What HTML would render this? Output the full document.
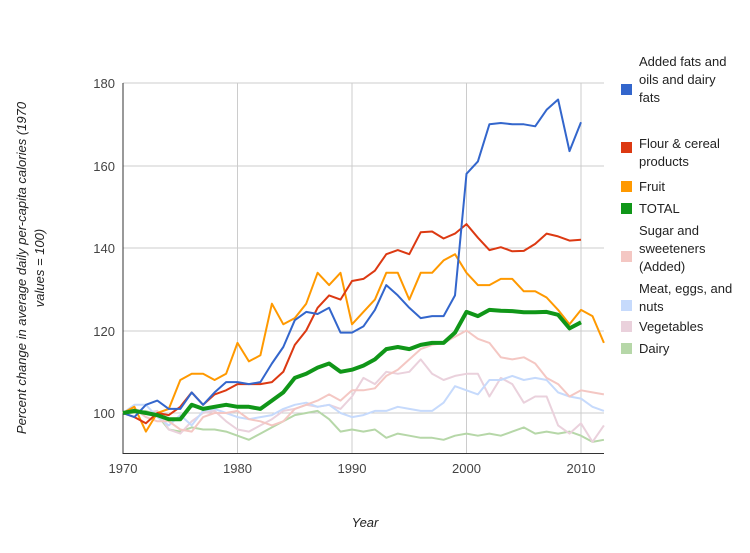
<!DOCTYPE html>
<html><head><style>
body{margin:0;background:#fff;font-family:"Liberation Sans",Arial,sans-serif;}
svg text{font-family:"Liberation Sans",Arial,sans-serif;}
</style></head><body>
<svg id="s" width="750" height="548" viewBox="0 0 750 548" xmlns="http://www.w3.org/2000/svg">
<rect width="750" height="548" fill="#fff"/>
<g stroke="#cccccc" stroke-width="1">
<line x1="123" y1="83" x2="604" y2="83"/>
<line x1="123" y1="166" x2="604" y2="166"/>
<line x1="123" y1="248" x2="604" y2="248"/>
<line x1="123" y1="331" x2="604" y2="331"/>
<line x1="123" y1="413" x2="604" y2="413"/>
<line x1="237.5" y1="83" x2="237.5" y2="453"/>
<line x1="352" y1="83" x2="352" y2="453"/>
<line x1="466.5" y1="83" x2="466.5" y2="453"/>
<line x1="581" y1="83" x2="581" y2="453"/>
</g>
<line x1="123" y1="83" x2="123" y2="454" stroke="#333"/>
<line x1="123" y1="453.5" x2="604" y2="453.5" stroke="#333"/>
<g font-size="13" fill="#444" text-anchor="end">
<text x="115" y="88">180</text><text x="115" y="171">160</text><text x="115" y="253">140</text><text x="115" y="336">120</text><text x="115" y="418">100</text>
</g>
<g font-size="13" fill="#444" text-anchor="middle">
<text x="123" y="473">1970</text><text x="237.5" y="473">1980</text><text x="352" y="473">1990</text><text x="466.5" y="473">2000</text><text x="581" y="473">2010</text>
</g>
<text x="365" y="527" font-size="13" font-style="italic" fill="#222" text-anchor="middle">Year</text>
<g transform="translate(26,268) rotate(-90)" font-size="13" font-style="italic" fill="#222" text-anchor="middle">
<text x="0" y="0">Percent change in average daily per-capita calories (1970</text>
<text x="0" y="18">values = 100)</text>
</g>
<g id="series"></g>
<g font-size="13" fill="#222">
<rect x="621" y="84" width="11" height="11" fill="#3366cc"/>
<text x="639" y="66">Added fats and</text><text x="639" y="84">oils and dairy</text><text x="639" y="102">fats</text>
<rect x="621" y="142" width="11" height="11" fill="#dc3912"/>
<text x="639" y="148">Flour &amp; cereal</text><text x="639" y="166">products</text>
<rect x="621" y="181" width="11" height="11" fill="#ff9900"/>
<text x="639" y="191">Fruit</text>
<rect x="621" y="203" width="11" height="11" fill="#109618"/>
<text x="639" y="213">TOTAL</text>
<rect x="621" y="251" width="11" height="11" fill="#f4c7c3"/>
<text x="639" y="235">Sugar and</text><text x="639" y="253">sweeteners</text><text x="639" y="271">(Added)</text>
<rect x="621" y="300" width="11" height="11" fill="#c6dafc"/>
<text x="639" y="293">Meat, eggs, and</text><text x="639" y="311">nuts</text>
<rect x="621" y="321" width="11" height="11" fill="#ead1dc"/>
<text x="639" y="331">Vegetables</text>
<rect x="621" y="343" width="11" height="11" fill="#b6d7a8"/>
<text x="639" y="353">Dairy</text>
</g>
</svg>
<script>
var S=[
["#b6d7a8",2,[100,100,100.5,99.5,96,95.5,96.5,96,96,95.5,94.5,93.5,95,96.5,98,99.5,100,100.5,98.5,95.5,96,95.5,96,94,95,94.5,94,94,93.5,94.5,95,94.5,95,94.5,95.5,96.5,95,95.5,95,95.5,94.5,93,93.5]],
["#ead1dc",2,[100,101,100,100.5,96,95,98,100,100.5,98,96,95.5,97,98.5,100.5,101,102,101.5,102,101,104,108.5,107,110,109.5,110,113,109.5,108,109,109.5,109.5,104,108.5,107,102.5,104,104,97,95,97.5,93,97]],
["#c6dafc",2,[100,102,102,99,97,99.5,97,100.5,101,100,99,98.5,99,99.5,101,102,102.5,101.5,102,100,99,99.5,100.5,100.5,101.5,101,100.5,100.5,102.5,106.5,105.5,104.5,108,108,109,108,108.5,108,105,104,103.5,101.5,100.5]],
["#f4c7c3",2,[100,101,99,98,98,96,95.5,99,100,100,100.5,98.5,98,97,98,101,102,103,104.5,103,105.5,105.5,106,109,110.5,113,115.5,116.5,117,118.5,120,118,117,113.5,113,113.5,112,108.5,107,104,105.5,105,104.5]],
["#ff9900",2,[100,101.5,95.5,100,101,108,109.5,109.5,108,109.5,117,112.5,114,126.5,121.5,123,126.5,134,131,134,121.5,124.5,127.5,134,134,127.5,134,134,137,138.5,134,131,131,132.5,132.5,129.5,129.5,128,125,121.5,125,123.5,117]],
["#dc3912",2,[100,99,97.5,100,99.5,101.5,105,102,104.5,105.5,107,107,107,107.5,110,116.5,120,125.5,128.5,127.5,132,132.5,134.5,138.5,139.5,138.5,143.8,144,142.3,143.5,145.8,142.5,139.5,140.2,139.2,139.3,141,143.5,142.8,141.8,142]],
["#3366cc",2,[100,99,102,103,101,101,105,102,105,107.5,107.5,107,107.5,112,116,122.5,124.5,124,125.5,119.5,119.5,121,125,131,128.5,125.5,123,123.5,123.5,128.5,158,161,170,170.3,170,170,169.5,173.5,176,163.5,170.5]],
["#109618",4,[100,100.5,100,99.5,98.5,98.5,102,101,101.5,102,101.5,101.5,101,103,105,108.5,109.5,111,112,110,110.5,111.5,113,115.5,116,115.5,116.5,117,117,119.5,124.5,123.5,125,124.8,124.7,124.4,124.4,124.5,123.8,120.5,122]]
];
var g=document.getElementById("series"),h="";
S.forEach(function(s){var p=s[2].map(function(v,i){return (123+11.45*i).toFixed(1)+","+(413-(v-100)*4.125).toFixed(1)}).join(" ");
h+='<polyline fill="none" stroke="'+s[0]+'" stroke-width="'+s[1]+'" stroke-linejoin="round" points="'+p+'"/>';});
g.innerHTML=h;
</script>
</body></html>
